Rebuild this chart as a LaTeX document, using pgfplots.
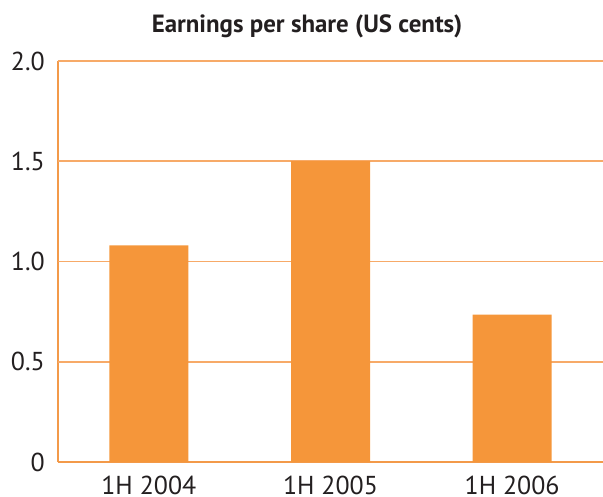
\documentclass[border=0pt]{standalone}
\usepackage{fontspec}
\setmainfont{PT Sans}
\usepackage{pgfplots}
\pgfplotsset{compat=1.18}
\definecolor{barorange}{HTML}{F5963A}
\definecolor{axisorange}{HTML}{F39A4A}
\definecolor{gridorange}{HTML}{F7AA68}
\definecolor{txt}{HTML}{231F20}
\begin{document}
\begin{tikzpicture}
\begin{axis}[
  scale only axis,
  width=545bp, height=401bp,
  xmin=-0.5, xmax=2.5,
  ymin=0, ymax=2,
  axis lines=left,
  axis line style={axisorange, line width=1.3pt, -},
  xtick={0,1,2},
  xticklabels={1H 2004,1H 2005,1H 2006},
  major x tick style={draw=none},
  extra x ticks={-0.5,0.5,1.5},
  extra x tick labels={},
  extra x tick style={tick style={axisorange, line width=1pt}, major tick length=10bp, tick align=inside, grid=none},
  ytick={0,0.5,1,1.5,2},
  yticklabels={0,0.5,1.0,1.5,2.0},
  major y tick style={draw=none},
  /pgf/number format/assume math mode=true,
  tick label style={font=\fontsize{26}{26}\selectfont, text=txt, inner sep=0pt},
  yticklabel style={anchor=east, xshift=-11bp},
  xticklabel style={anchor=base, yshift=-30bp},
  title={\bfseries\fontsize{25}{26}\selectfont Earnings per share (US cents)},
  title style={at={(rel axis cs:0.457,1)}, anchor=base, yshift=23bp, text=txt, inner sep=0pt},
  clip=false,
]
\pgfplotsinvokeforeach{0.5,1,1.5,2}{
  \draw[gridorange, line width=1.8pt] (axis cs:-0.5,#1) -- (axis cs:2.5,#1);
}
\addplot[ybar, bar width=79bp, fill=barorange, draw=none] coordinates {(0,1.08) (1,1.50) (2,0.735)};
\coordinate (bl) at (rel axis cs:0,0);
\coordinate (tr) at (rel axis cs:1,1);
\end{axis}
\pgfresetboundingbox
\path ([shift={(-58bp,-35bp)}]bl) rectangle ([shift={(0bp,61bp)}]tr);
\end{tikzpicture}
\end{document}
